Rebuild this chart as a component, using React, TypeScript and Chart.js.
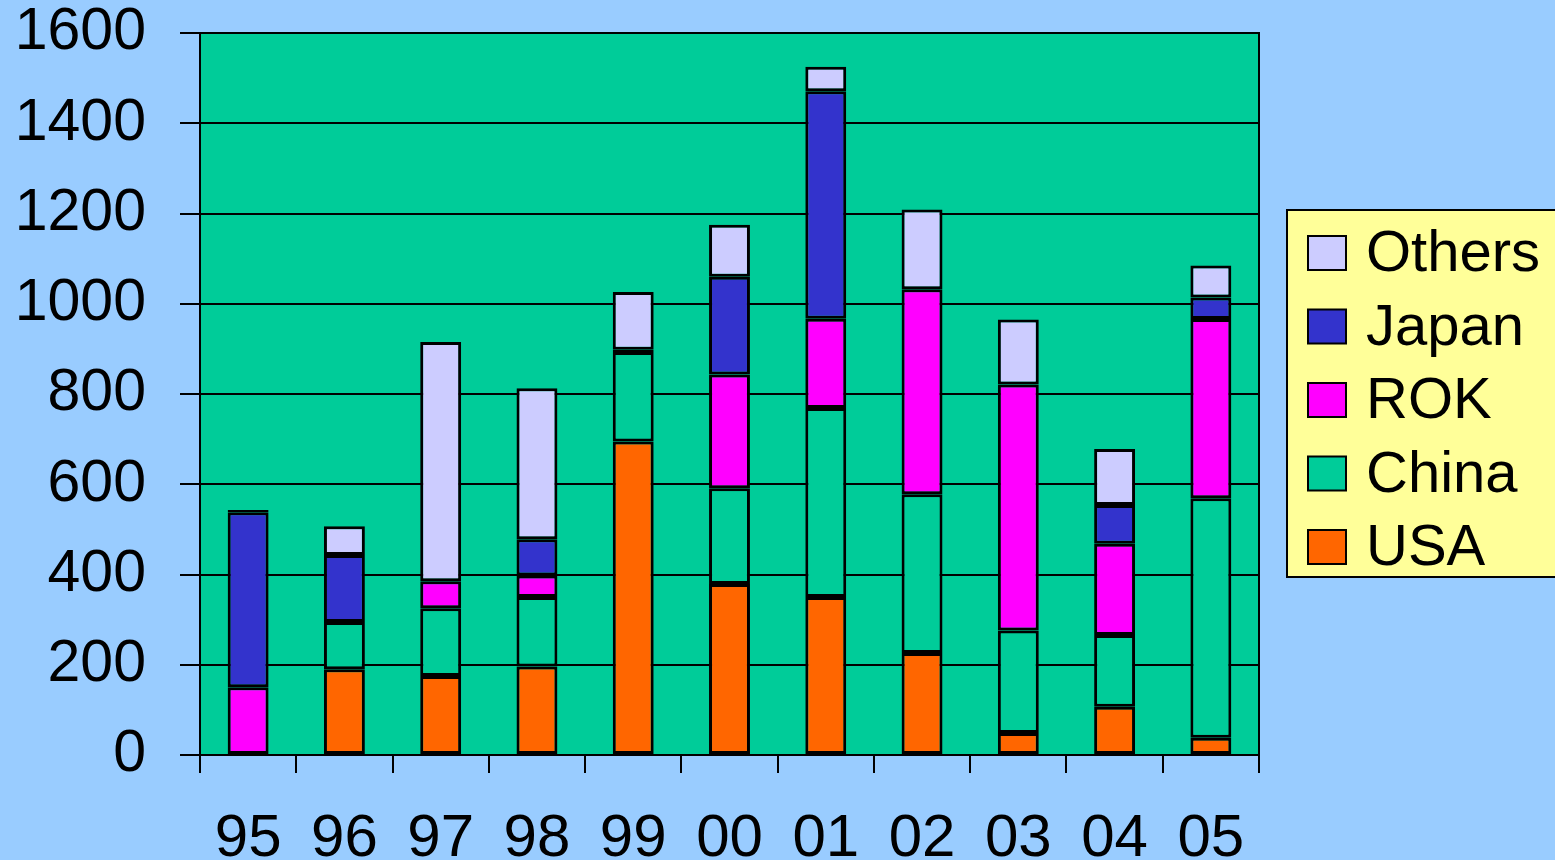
import React, { useEffect, useRef } from "react";
import { Chart, registerables } from "chart.js";

Chart.register(...registerables);

const categories = ["95", "96", "97", "98", "99", "00", "01", "02", "03", "04", "05"];
const usa = [null, 190, 175, 196, 695, 379, 350, 226, 49, 107, 38];
const china = [null, 105, 150, 154, 198, 212, 419, 352, 227, 159, 531];
const rok = [150, null, 60, 48, null, 252, 198, 454, 545, 202, 397];
const japan = [388, 148, null, 80, 5, 217, 504, null, null, 86, 48];
const others = [5, 64, 530, 335, 128, 115, 54, 177, 144, 124, 71];
const seriesNames = ["USA", "China", "ROK", "Japan", "Others"];
const seriesColors = ["#FF6600", "#00CC99", "#FF00FF", "#3333CC", "#CCCCFF"];
const yMax = 1600;
const yStep = 200;

const FONT = "'Liberation Sans', Arial, sans-serif";

const bgPlugin = {
  id: "bgPlugin",
  beforeDraw(chart: any) {
    const { ctx, chartArea } = chart;
    ctx.save();
    ctx.fillStyle = "#99CCFF";
    ctx.fillRect(0, 0, chart.width, chart.height);
    ctx.fillStyle = "#00CC99";
    ctx.fillRect(chartArea.left, chartArea.top, chartArea.right - chartArea.left, chartArea.bottom - chartArea.top);
    ctx.restore();
  },
  afterDraw(chart: any) {
    const { ctx, chartArea } = chart;
    ctx.save();
    ctx.strokeStyle = "#000";
    ctx.lineWidth = 2;
    ctx.strokeRect(chartArea.left, chartArea.top, chartArea.right - chartArea.left, chartArea.bottom - chartArea.top);
    // legend
    const lx = 1287, ly = 210, lw = 290, lh = 367;
    ctx.fillStyle = "#FFFF99";
    ctx.fillRect(lx, ly, lw, lh);
    ctx.strokeRect(lx, ly, lw, lh);
    const ds = chart.data.datasets.slice().reverse();
    ctx.font = `58px ${FONT}`;
    ctx.textBaseline = "middle";
    ctx.textAlign = "left";
    ds.forEach((d: any, i: number) => {
      const cy = 253 + i * 73.5;
      ctx.fillStyle = d.backgroundColor;
      ctx.fillRect(1308, cy - 17, 38, 34);
      ctx.lineWidth = 2;
      ctx.strokeStyle = "#000";
      ctx.strokeRect(1308, cy - 17, 38, 34);
      ctx.fillStyle = "#000";
      ctx.fillText(d.label, 1366, cy + 2);
    });
    ctx.restore();
  },
};

export default function App() {
  const ref = useRef<HTMLCanvasElement | null>(null);
  useEffect(() => {
    document.body.style.margin = "0";
    const canvas = ref.current;
    if (!canvas) return;
    const dataArrays = [usa, china, rok, japan, others];
    const chart = new Chart(canvas, {
      type: "bar",
      data: {
        labels: categories,
        datasets: dataArrays.map((arr, i) => ({
          label: seriesNames[i],
          data: arr,
          backgroundColor: seriesColors[i],
          borderColor: "#000",
          borderWidth: 3,
          borderSkipped: false,
          barPercentage: 0.5,
          categoryPercentage: 0.85,
        })),
      },
      options: {
        responsive: false,
        animation: false,
        layout: { padding: { top: 33, right: 296, left: 0, bottom: 0 } },
        plugins: { legend: { display: false }, tooltip: { enabled: false } },
        scales: {
          x: {
            stacked: true,
            offset: true,
            grid: {
              offset: true,
              drawOnChartArea: false,
              drawTicks: true,
              tickLength: 18,
              tickColor: "#000",
              tickWidth: 2,
              color: "#000",
              lineWidth: 2,
            },
            border: { display: true, color: "#000", width: 2 },
            ticks: {
              color: "#000",
              font: { family: FONT, size: 60, lineHeight: 1 },
              padding: 36,
              maxRotation: 0,
              autoSkip: false,
            },
            afterFit(scale: any) {
              scale.height = 105;
            },
          },
          y: {
            stacked: true,
            min: 0,
            max: yMax,
            ticks: {
              stepSize: yStep,
              color: "#000",
              font: { family: FONT, size: 59, lineHeight: 1 },
              padding: 34,
              callback: (v: any) => String(v),
            },
            grid: {
              color: "#000",
              lineWidth: 2,
              tickLength: 20,
              tickColor: "#000",
              tickWidth: 2,
            },
            border: { display: true, color: "#000", width: 2 },
            afterFit(scale: any) {
              scale.width = 200;
              scale.paddingTop = 0;
              scale.paddingBottom = 0;
            },
          },
        },
      },
      plugins: [bgPlugin],
    });
    return () => chart.destroy();
  }, []);
  return (
    <div style={{ width: 1555, height: 860, position: "relative" }}>
      <canvas ref={ref} width={1555} height={860} style={{ display: "block" }} />
    </div>
  );
}
